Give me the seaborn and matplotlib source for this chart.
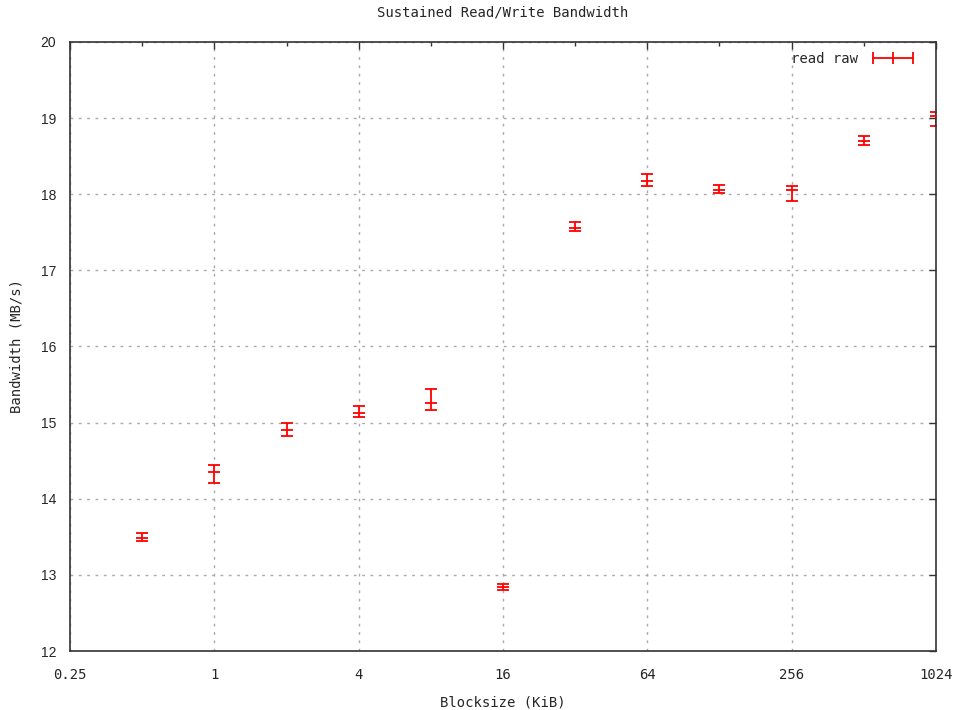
import numpy as np
import pandas as pd
import matplotlib
matplotlib.use("Agg")
import matplotlib.pyplot as plt
from matplotlib.lines import Line2D
from matplotlib.ticker import FixedLocator, NullFormatter
import seaborn as sns

# -----------------------------
blocksize = [0.5, 1, 2, 4, 8, 16, 32, 64, 128, 256, 512, 1024]
bandwidth = [13.49, 14.35, 14.90, 15.12, 15.26, 12.84, 17.56, 18.17, 18.06, 18.06, 18.70, 19.03]
err_low = [0.05, 0.14, 0.08, 0.05, 0.10, 0.04, 0.05, 0.06, 0.05, 0.145, 0.05, 0.13]
err_high = [0.055, 0.10, 0.10, 0.10, 0.18, 0.04, 0.075, 0.10, 0.055, 0.05, 0.06, 0.05]
x_ticks = [0.25, 1, 4, 16, 64, 256, 1024]
x_minor = [0.5, 2, 8, 32, 128, 512]
y_ticks = list(range(12, 21))

df = pd.DataFrame({"Blocksize": blocksize, "Bandwidth": bandwidth,
                   "lo": err_low, "hi": err_high})

# -----------------------------
sns.set_style("white")
plt.rcParams["font.family"] = ["DejaVu Sans Mono", "DejaVu Sans"]

fig = plt.figure(figsize=(9.59, 7.10), dpi=100)
ax = fig.add_axes([0.073, 0.083, 0.903, 0.858])

ax.errorbar(df["Blocksize"], df["Bandwidth"], yerr=[df["lo"], df["hi"]],
            fmt="none", ecolor="red", elinewidth=1.3, capsize=4, capthick=1.3)
sns.scatterplot(data=df, x="Blocksize", y="Bandwidth", marker="_", s=80,
                color="red", linewidth=1.3, ax=ax, legend=False, zorder=3)

ax.set_xscale("log", base=2)
ax.set_xlim(0.25, 1024)
ax.set_ylim(12, 20)
ax.xaxis.set_major_locator(FixedLocator(x_ticks))
ax.set_xticklabels([str(t) for t in x_ticks])
ax.xaxis.set_minor_locator(FixedLocator(x_minor))
ax.xaxis.set_minor_formatter(NullFormatter())
ax.set_yticks(y_ticks)
ax.set_yticklabels([str(t) for t in y_ticks], family="Liberation Sans", fontsize=11.5)
ax.tick_params(which="both", direction="in", top=True, right=True,
               length=5, width=1, color="#333333", labelsize=10)
ax.tick_params(axis="x", pad=12)
ax.tick_params(axis="y", pad=10)
ax.tick_params(which="minor", length=3)

ax.grid(True, which="major", color="#aaaaaa", linestyle=(0, (2, 4)), linewidth=1)
for s in ax.spines.values():
    s.set_color("#333333")
    s.set_linewidth(1.2)

ax.set_title("Sustained Read/Write Bandwidth", fontsize=10, pad=18)
ax.set_xlabel("Blocksize (KiB)", fontsize=10, labelpad=10)
ax.set_ylabel("Bandwidth (MB/s)", fontsize=10, labelpad=12)

handle = Line2D([], [], color="red", marker="|", markersize=8, linewidth=1.3,
                markeredgewidth=1.3)
ax.legend(handles=[handle], labels=["read raw"], loc="upper right", frameon=False,
          numpoints=3, markerfirst=False, fontsize=10, handlelength=3.5,
          borderaxespad=0.3, bbox_to_anchor=(0.99, 1.0))

fig.savefig("out.png", dpi=100)
